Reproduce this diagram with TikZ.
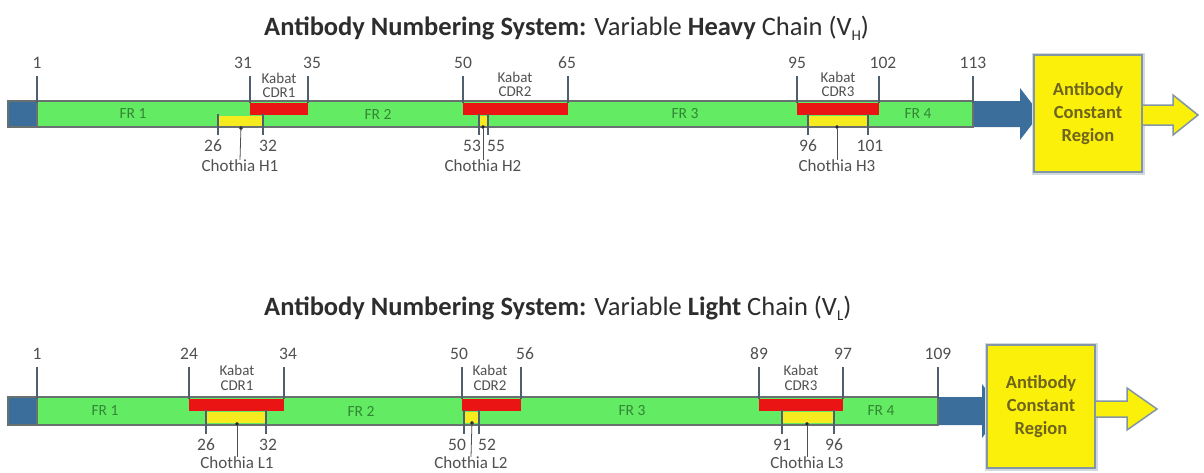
\documentclass[tikz,border=0pt]{standalone}
\usepackage{fontspec}
\setmainfont{Carlito}
\usetikzlibrary{arrows.meta}
\definecolor{bargreen}{RGB}{100,235,100}
\definecolor{frgreen}{RGB}{50,135,50}
\definecolor{barline}{RGB}{105,112,112}
\definecolor{barblue}{RGB}{60,110,155}
\definecolor{tickcol}{RGB}{80,95,110}
\definecolor{cdrred}{RGB}{235,20,20}
\definecolor{choyellow}{RGB}{245,235,30}
\definecolor{boxyellow}{RGB}{250,240,10}
\definecolor{boxline}{RGB}{130,150,165}
\definecolor{boxtext}{RGB}{110,100,30}
\definecolor{lblgray}{RGB}{80,80,80}
\definecolor{titlecol}{RGB}{45,45,45}
\tikzset{
  num/.style={font=\fontsize{17.5}{17.5}\selectfont, text=lblgray, inner sep=0pt},
  lbl/.style={font=\fontsize{17}{17}\selectfont, text=lblgray, inner sep=0pt},
  kablbl/.style={font=\fontsize{15}{15}\selectfont, text=lblgray, inner sep=0pt},
  frlbl/.style={font=\fontsize{15.5}{15.5}\selectfont, text=frgreen, inner sep=0pt},
  ttl/.style={font=\fontsize{26.5}{26.5}\selectfont, text=titlecol, inner sep=0pt, anchor=west},
  tickline/.style={draw=tickcol, line width=2pt},
  pointer/.style={draw=lblgray, line width=0.8pt, -{Circle[length=4pt, fill=black]}},
  barbody/.style={fill=bargreen, draw=barline, line width=1.6pt},
  barstart/.style={fill=barblue, draw=barline, line width=1.6pt},
  kabatbox/.style={fill=cdrred},
  chobox/.style={fill=choyellow},
  blueArrow/.style={fill=barblue},
  yelArrow/.style={fill=boxyellow, draw=boxline, line width=1.5pt, line join=miter},
  cbox/.style={fill=boxyellow, draw=boxline, line width=2pt, align=center,
    font=\fontsize{18.5}{23}\selectfont\bfseries, text=boxtext, inner sep=0pt,
    preaction={draw=boxline!35, line width=5pt}},
}
\begin{document}
\begin{tikzpicture}[x=1pt,y=-1pt]
\useasboundingbox (0,0) rectangle (1204,472);

% ================= HEAVY CHAIN =================
\node[ttl] (htitle) at (264,28) {\textbf{Antibody Numbering System:} Variable \textbf{Heavy} Chain (V{\fontsize{15}{15}\selectfont\raisebox{-5pt}{H}})};

% arrow to constant region (under the box)
\fill[blueArrow] (973,101) -- (1020,101) -- (1020,88) -- (1040,114) -- (1020,140) -- (1020,127) -- (973,127) -- cycle;
% bar
\draw[barbody] (8,101) rectangle (973,127);
\draw[barstart] (8,101) rectangle (37,127);
% CDR boxes
\fill[kabatbox] (250,103) rectangle (308,115);
\fill[kabatbox] (463,103) rectangle (568,115);
\fill[kabatbox] (797,103) rectangle (879,115);
\fill[chobox] (218,116) rectangle (263,126);
\fill[chobox] (479,116) rectangle (488,126);
\fill[chobox] (808,116) rectangle (868,126);
% FR labels
\node[frlbl] (hfr1) at (133,114) {FR 1};
\node[frlbl] (hfr2) at (378,114) {FR 2};
\node[frlbl] (hfr3) at (685,114) {FR 3};
\node[frlbl] (hfr4) at (918,114) {FR 4};
% top ticks
\foreach \x/\lx/\t [count=\i] in {37/37/1, 250/243/31, 308/312/35, 463/463/50, 568/567/65, 797/797/95, 879/883/102, 973/973/113} {
  \node[num] (hn\i) at (\lx,63) {\t};
  \coordinate (hta\i) at (\x,76);
  \coordinate (htb\i) at (\x,103);
  \draw[tickline] (hta\i) -- (htb\i);
}
% bottom ticks
\foreach \x/\lx/\t [count=\i] in {218/213/26, 263/268/32, 479/472/53, 488/496/55, 808/808/96, 868/870/101} {
  \node[num] (hb\i) at (\lx,146) {\t};
  \coordinate (hba\i) at (\x,114);
  \coordinate (hbb\i) at (\x,135);
  \draw[tickline] (hba\i) -- (hbb\i);
}
% Kabat labels
\node[kablbl] (hk1a) at (279,78) {Kabat};
\node[kablbl] (hk1b) at (279,93) {CDR1};
\node[kablbl] (hk2a) at (515,77) {Kabat};
\node[kablbl] (hk2b) at (515,92) {CDR2};
\node[kablbl] (hk3a) at (838,77) {Kabat};
\node[kablbl] (hk3b) at (838,92) {CDR3};
% Chothia labels
\node[lbl] (hc1) at (240,166) {Chothia H1};
\node[lbl] (hc2) at (483,166) {Chothia H2};
\node[lbl] (hc3) at (837,166) {Chothia H3};
\coordinate (hd1) at (241,126);
\coordinate (hd2) at (483,125);
\coordinate (hd3) at (837,125);
\draw[pointer] (hc1.north) -- (hd1);
\draw[pointer] (hc2.north) -- (hd2);
\draw[pointer] (hc3.north) -- (hd3);
% constant region
\node[cbox, minimum width=108pt, minimum height=117pt] (hbox) at (1088,113.5) {Antibody\\Constant\\Region};
\draw[yelArrow] (hbox.east |- 0,105) -- (1173,105) -- (1173,95) -- (1198,115) -- (1173,135) -- (1173,125) -- (hbox.east |- 0,125);

% ================= LIGHT CHAIN =================
\node[ttl] (ltitle) at (264,308) {\textbf{Antibody Numbering System:} Variable \textbf{Light} Chain (V{\fontsize{15}{15}\selectfont\raisebox{-5pt}{L}})};

\fill[blueArrow] (938,397) -- (982,397) -- (982,384) -- (1002,411) -- (982,438) -- (982,425) -- (938,425) -- cycle;
\draw[barbody] (8,397) rectangle (938,425);
\draw[barstart] (8,397) rectangle (37,425);
\fill[kabatbox] (189,399) rectangle (284,411);
\fill[kabatbox] (462,399) rectangle (521,411);
\fill[kabatbox] (759,399) rectangle (843,411);
\fill[chobox] (206,412) rectangle (266,423);
\fill[chobox] (464,412) rectangle (479,423);
\fill[chobox] (782,412) rectangle (834,423);
\node[frlbl] (lfr1) at (105,411) {FR 1};
\node[frlbl] (lfr2) at (361,411) {FR 2};
\node[frlbl] (lfr3) at (632,411) {FR 3};
\node[frlbl] (lfr4) at (881,411) {FR 4};
\foreach \x/\lx/\t [count=\i] in {37/37/1, 189/189/24, 284/288/34, 462/459/50, 521/525/56, 759/759/89, 843/843/97, 938/938/109} {
  \node[num] (ln\i) at (\lx,354) {\t};
  \coordinate (lta\i) at (\x,367);
  \coordinate (ltb\i) at (\x,399);
  \draw[tickline] (lta\i) -- (ltb\i);
}
\foreach \x/\lx/\t [count=\i] in {206/206/26, 266/268/32, 464/457/50, 479/487/52, 782/782/91, 834/834/96} {
  \node[num] (lb\i) at (\lx,445) {\t};
  \coordinate (lba\i) at (\x,410);
  \coordinate (lbb\i) at (\x,434);
  \draw[tickline] (lba\i) -- (lbb\i);
}
\node[kablbl] (lk1a) at (237,370) {Kabat};
\node[kablbl] (lk1b) at (237,386) {CDR1};
\node[kablbl] (lk2a) at (490,370) {Kabat};
\node[kablbl] (lk2b) at (490,386) {CDR2};
\node[kablbl] (lk3a) at (801,370) {Kabat};
\node[kablbl] (lk3b) at (801,386) {CDR3};
\node[lbl] (lc1) at (237,463) {Chothia L1};
\node[lbl] (lc2) at (471,463) {Chothia L2};
\node[lbl] (lc3) at (807,463) {Chothia L3};
\coordinate (ld1) at (237,422);
\coordinate (ld2) at (472,421);
\coordinate (ld3) at (807,422);
\draw[pointer] (lc1.north) -- (ld1);
\draw[pointer] (lc2.north) -- (ld2);
\draw[pointer] (lc3.north) -- (ld3);
\node[cbox, minimum width=108pt, minimum height=123pt] (lbox) at (1041,406.5) {Antibody\\Constant\\Region};
\draw[yelArrow] (lbox.east |- 0,401) -- (1127,401) -- (1127,388) -- (1157,409) -- (1127,430) -- (1127,417) -- (lbox.east |- 0,417);
\end{tikzpicture}
\end{document}
